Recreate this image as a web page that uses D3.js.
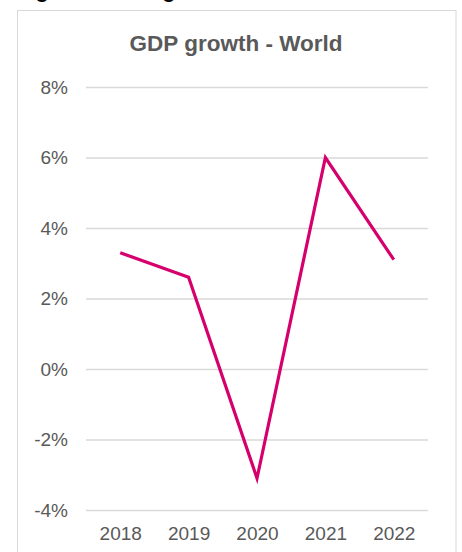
<!DOCTYPE html>
<html>
<head>
<meta charset="utf-8">
<script src="https://cdn.jsdelivr.net/npm/d3@7"></script>
<style>
  body { margin: 0; background: #fff; }
  svg { display: block; font-family: "Liberation Sans", Arial, sans-serif; }
  .grid line { stroke: #d9d9d9; stroke-width: 1.4; }
  .axis text { fill: #595959; font-size: 19px; }
</style>
</head>
<body>
<svg id="chart"></svg>
<script>
// chart data
var years = ["2018", "2019", "2020", "2021", "2022"];
var growth = [3.3, 2.6, -3.1, 6.0, 3.1];
var yTicks = [-4, -2, 0, 2, 4, 6, 8];

var W = 462, H = 552;
var plot = {left: 86, right: 428, top: 87, bottom: 510};

var svg = d3.select("#chart")
    .attr("width", W)
    .attr("height", H);

// caption from the page above, only its descenders show
svg.append("text")
    .attr("x", 17)
    .attr("y", -2.5)
    .style("font-weight", "bold")
    .style("font-size", "21px")
    .style("fill", "#000")
    .text("Figure 1: GDP growth");

// chart frame
svg.append("rect")
    .attr("x", 17.5)
    .attr("y", 10.5)
    .attr("width", 438.5)
    .attr("height", 560)
    .style("fill", "none")
    .style("stroke", "#d9d9d9")
    .style("stroke-width", 1);

svg.append("text")
    .attr("x", 236)
    .attr("y", 51)
    .attr("text-anchor", "middle")
    .style("font-weight", "bold")
    .style("font-size", "22.5px")
    .style("fill", "#595959")
    .text("GDP growth - World");

var x = d3.scalePoint()
    .domain(years)
    .range([plot.left, plot.right])
    .padding(0.5);

var y = d3.scaleLinear()
    .domain([-4, 8])
    .range([plot.bottom, plot.top]);

// y axis with gridlines
var yAxis = d3.axisLeft(y)
    .tickValues(yTicks)
    .tickSize(-(plot.right - plot.left))
    .tickPadding(18)
    .tickFormat(function(d) { return d + "%"; });

svg.append("g")
    .attr("class", "axis grid")
    .attr("transform", "translate(" + plot.left + ",0)")
    .call(yAxis)
    .call(function(g) { g.select(".domain").remove(); });

// x axis, labels only
var xAxis = d3.axisBottom(x)
    .tickSize(0)
    .tickPadding(16.5);

svg.append("g")
    .attr("class", "axis")
    .attr("transform", "translate(0," + plot.bottom + ")")
    .call(xAxis)
    .call(function(g) { g.select(".domain").remove(); });

var line = d3.line()
    .x(function(d, i) { return x(years[i]); })
    .y(function(d) { return y(d); });

svg.append("path")
    .datum(growth)
    .attr("d", line)
    .style("fill", "none")
    .style("stroke", "#d6006c")
    .style("stroke-width", 3.2)
    .style("stroke-linejoin", "miter");
</script>
</body>
</html>
